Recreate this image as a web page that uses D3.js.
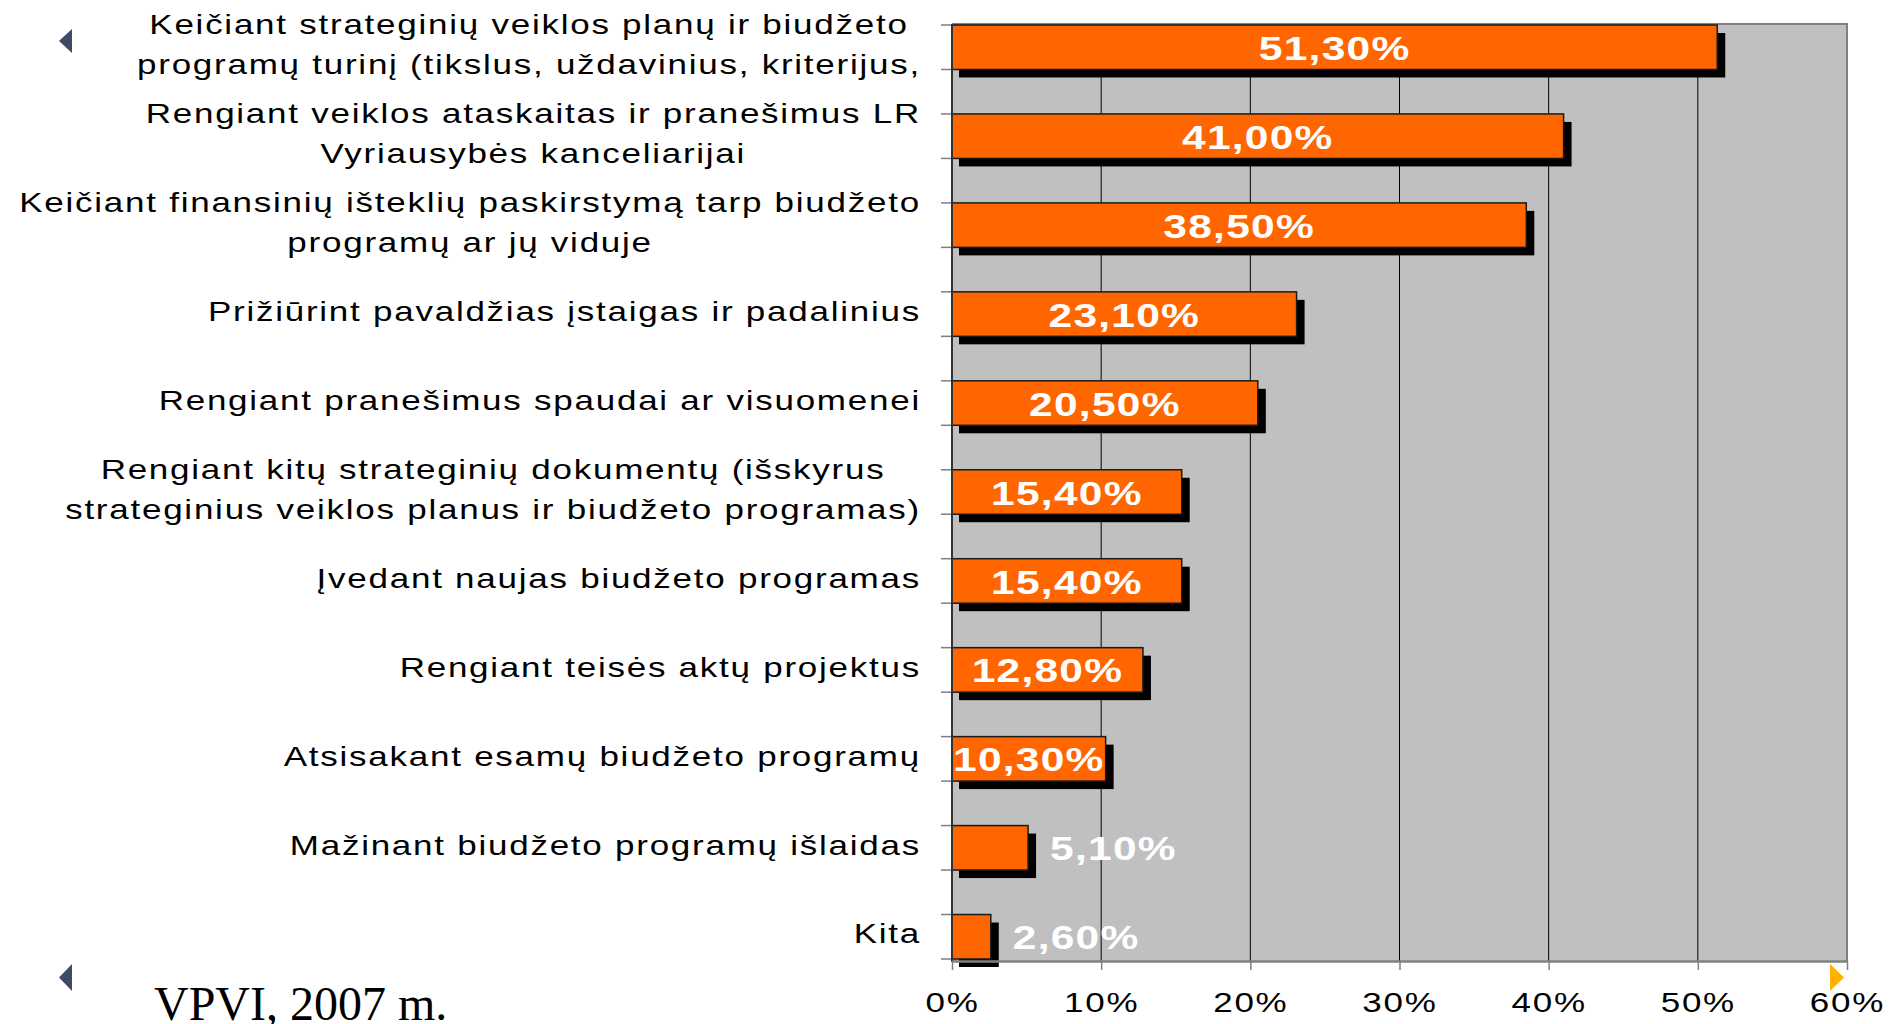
<!DOCTYPE html>
<html>
<head>
<meta charset="utf-8">
<script src="https://cdn.jsdelivr.net/npm/d3@7"></script>
<style>
  body { margin: 0; background: #fff; }
  svg { display: block; }
  text { font-family: "Liberation Sans", Arial, sans-serif; }
</style>
</head>
<body>
<script>
// data
var categories = [
  ["Keičiant strateginių veiklos planų ir biudžeto", "programų turinį (tikslus, uždavinius, kriterijus,"],
  ["Rengiant veiklos ataskaitas ir pranešimus LR", "Vyriausybės kanceliarijai"],
  ["Keičiant finansinių išteklių paskirstymą tarp biudžeto", "programų ar jų viduje"],
  ["Prižiūrint pavaldžias įstaigas ir padalinius"],
  ["Rengiant pranešimus spaudai ar visuomenei"],
  ["Rengiant kitų strateginių dokumentų (išskyrus", "strateginius veiklos planus ir biudžeto programas)"],
  ["Įvedant naujas biudžeto programas"],
  ["Rengiant teisės aktų projektus"],
  ["Atsisakant esamų biudžeto programų"],
  ["Mažinant biudžeto programų išlaidas"],
  ["Kita"]
];
var values = [51.3, 41.0, 38.5, 23.1, 20.5, 15.4, 15.4, 12.8, 10.3, 5.1, 2.6];
var xTicks = [0, 10, 20, 30, 40, 50, 60];
var source = "VPVI, 2007 m.";

var width = 1890, height = 1024;
var plot = { left: 952, right: 1847, top: 24, bottom: 961 };
var SX = 1.25; // text in the picture is drawn wider than Arial

var svg = d3.select("body").append("svg")
    .attr("width", width)
    .attr("height", height);

var x = d3.scaleLinear().domain([0, 60]).range([plot.left, plot.right]);
var y = d3.scaleBand().domain(d3.range(values.length))
    .range([25, 959]).paddingInner(0.5).paddingOuter(0);

// plot area
svg.append("rect")
    .attr("x", plot.left).attr("y", plot.top)
    .attr("width", plot.right - plot.left).attr("height", plot.bottom - plot.top)
    .attr("fill", "#c0c0c0");

svg.append("g").selectAll("line")
    .data(xTicks.slice(1, -1))
    .join("line")
    .attr("x1", x).attr("x2", x)
    .attr("y1", plot.top).attr("y2", plot.bottom)
    .attr("stroke", "#000").attr("stroke-width", 1);

svg.append("path")
    .attr("d", "M" + plot.left + "," + plot.top + "H" + plot.right + "V" + plot.bottom)
    .attr("fill", "none").attr("stroke", "#808080").attr("stroke-width", 2);

// shadows then bars
svg.append("g").selectAll("rect")
    .data(values)
    .join("rect")
    .attr("x", x(0) + 7)
    .attr("y", function (d, i) { return y(i) + 8; })
    .attr("width", function (d) { return x(d) - x(0) + 1; })
    .attr("height", y.bandwidth())
    .attr("fill", "#000");

svg.append("g").selectAll("rect")
    .data(values)
    .join("rect")
    .attr("x", x(0))
    .attr("y", function (d, i) { return y(i); })
    .attr("width", function (d) { return x(d) - x(0); })
    .attr("height", y.bandwidth())
    .attr("fill", "#ff6600")
    .attr("stroke", "#1a1a1a").attr("stroke-width", 1.5);

// y axis
var yTickPos = [];
values.forEach(function (d, i) { yTickPos.push(y(i), y(i) + y.bandwidth()); });
svg.append("g").selectAll("line")
    .data(yTickPos)
    .join("line")
    .attr("x1", plot.left - 11).attr("x2", plot.left)
    .attr("y1", function (d) { return d; }).attr("y2", function (d) { return d; })
    .attr("stroke", "#808080").attr("stroke-width", 1.5);
svg.append("line")
    .attr("x1", plot.left).attr("x2", plot.left)
    .attr("y1", plot.top).attr("y2", plot.bottom + 1)
    .attr("stroke", "#333").attr("stroke-width", 2);

// x axis
var xAxis = svg.append("g")
    .attr("transform", "translate(0," + plot.bottom + ")")
    .call(d3.axisBottom(x).tickValues(xTicks)
        .tickFormat(function (d) { return d + "%"; })
        .tickSize(9).tickSizeOuter(0));
xAxis.select(".domain").attr("stroke", "#808080").attr("stroke-width", 2.5);
xAxis.selectAll(".tick line").attr("stroke", "#808080").attr("stroke-width", 1.5);
xAxis.selectAll(".tick text")
    .attr("y", 0).attr("dy", 0)
    .attr("transform", "translate(0,51) scale(" + SX + ",1)")
    .attr("font-size", 28)
    .attr("letter-spacing", 1.4)
    .attr("fill", "#000");

// value labels
svg.append("g").selectAll("text")
    .data(values)
    .join("text")
    .attr("transform", function (d, i) {
        var cx = d < 10 ? x(d) + 22 : x(d / 2);
        return "translate(" + cx + "," + (y(i) + y.bandwidth() / 2) + ") scale(" + SX + ",1)";
    })
    .attr("text-anchor", function (d) { return d < 10 ? "start" : "middle"; })
    .attr("dy", "0.37em")
    .attr("font-size", 34)
    .attr("font-weight", "bold")
    .attr("letter-spacing", 1)
    .attr("fill", "#fff")
    .text(function (d) { return d.toFixed(2).replace(".", ",") + "%"; });

// category labels: block right-aligned, lines centred inside the block
var labelRight = 921, lineGap = 40;
categories.forEach(function (lines, i) {
    var cy = y(i) + y.bandwidth() / 2;
    var g = svg.append("g");
    var texts = g.selectAll("text")
        .data(lines)
        .join("text")
        .attr("text-anchor", "middle")
        .attr("dy", "0.24em")
        .attr("font-size", 28)
        .attr("letter-spacing", 1.4)
        .attr("fill", "#000")
        .text(function (d) { return d; });
    var maxW = d3.max(texts.nodes(), function (n) { return n.getComputedTextLength(); }) * SX;
    var cx = labelRight - maxW / 2;
    texts.attr("transform", function (d, k) {
        var ly = cy + (k - (lines.length - 1) / 2) * lineGap;
        return "translate(" + cx + "," + ly + ") scale(" + SX + ",1)";
    });
});

// source note
svg.append("text")
    .attr("x", 154).attr("y", 1020)
    .style("font-family", "'Liberation Serif', 'Times New Roman', serif")
    .attr("font-size", 48)
    .attr("fill", "#000")
    .text(source);

// slide navigation arrows
svg.append("path").attr("d", "M72,29L59,41L72,53Z").attr("fill", "#3f4a66");
svg.append("path").attr("d", "M72,964L59,977.5L72,991Z").attr("fill", "#3f4a66");
svg.append("path").attr("d", "M1830,964L1844,977.5L1830,991Z").attr("fill", "#ffb000");
</script>
</body>
</html>
